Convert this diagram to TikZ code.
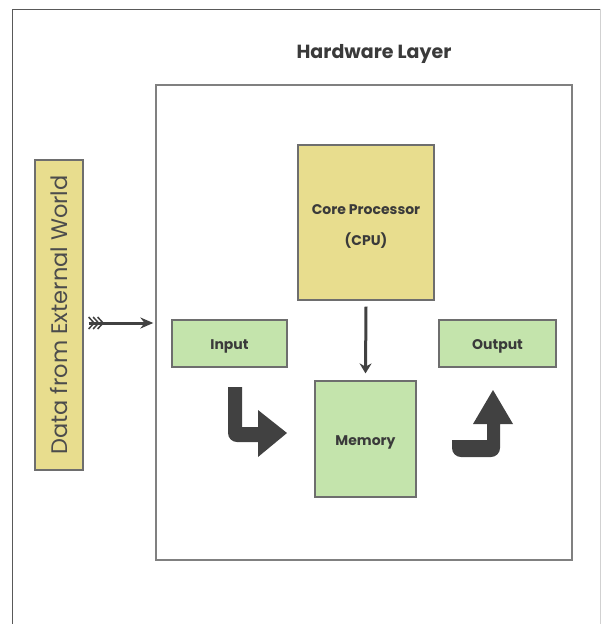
\documentclass[tikz,border=0pt]{standalone}
\usepackage{fontspec}
\setmainfont{Poppins}
\usetikzlibrary{arrows.meta}
\definecolor{boxyellow}{HTML}{E8DD8E}
\definecolor{boxgreen}{HTML}{C4E4AC}
\definecolor{edgegray}{HTML}{6E6E6E}
\definecolor{inkgray}{HTML}{3A3A3A}
\definecolor{arrowgray}{HTML}{414141}
\tikzset{
  unit/.style={draw=edgegray, line width=1.2pt, inner sep=0pt},
  yellowbox/.style={unit, fill=boxyellow},
  greenbox/.style={unit, fill=boxgreen},
  unitlabel/.style={text=inkgray, inner sep=0pt, align=center,
    font=\bfseries\fontsize{14}{31}\selectfont},
  bentarrow/.style={fill=arrowgray},
  flow/.style={draw=arrowgray, line width=3pt},
}
\begin{document}
\begin{tikzpicture}[x=1pt, y=-1pt]
\useasboundingbox (0,0) rectangle (602,624);
% page frame
\draw[draw=black!65, line width=1pt] (12,624) -- (12,9) -- (600,9);
\draw[draw=black!18, line width=1pt] (600,9) -- (600,624);

% title and hardware layer box
\node[text=inkgray, font=\bfseries\fontsize{19}{22}\selectfont] (title) at (374,54) {Hardware Layer};
\node[draw=black!50, line width=1.3pt, minimum width=416pt, minimum height=475pt, inner sep=0pt]
  (hw) at (364,322.5) {};

% external data source
\node[yellowbox, minimum width=310pt, minimum height=48pt, rotate=90, text=black!70,
      font=\fontsize{22.5}{26}\selectfont] (data) at (59,315) {Data from External World};

% units inside the hardware layer
\node[yellowbox, minimum width=136pt, minimum height=155pt] (cpu) at (366,222.5) {};
\node[greenbox, minimum width=115pt, minimum height=47pt] (input) at (229.5,343.5) {};
\node[greenbox, minimum width=117pt, minimum height=47pt] (output) at (497.5,343.5) {};
\node[greenbox, minimum width=101pt, minimum height=116pt] (mem) at (365.5,439) {};
\node[unitlabel] (cpu-text) at ([yshift=-4pt]cpu.center) {Core Processor\\(CPU)};
\node[unitlabel] (input-text) at ([yshift=-3pt]input.center) {Input};
\node[unitlabel] (output-text) at ([yshift=-3pt]output.center) {Output};
\node[unitlabel] (mem-text) at ([yshift=-3pt]mem.center) {Memory};

% data entering the hardware layer (fletched arrow)
\coordinate (feed) at ([xshift=5pt]data.south |- 0,323);
\draw[flow, -{Stealth[length=13pt, width=11pt]}] (feed) -- ([xshift=-2pt]hw.west |- feed);
\foreach \dx in {0,4.5,9}
  \draw[draw=arrowgray, line width=1.5pt] ([xshift=\dx pt, yshift=6pt]feed) -- ([xshift={\dx pt+5.5pt}]feed) -- ([xshift=\dx pt, yshift=-6pt]feed);

% processor writes to memory
\draw[flow, -{Stealth[length=10pt, width=12pt]}] ([yshift=-6pt]cpu.south) -- ([yshift=7pt]mem.north);

% input into memory
\fill[bentarrow] (228,387) -- (242,387) -- (242,427) -- (258,427) -- (258,410) -- (287,433)
  -- (258,457) -- (258,442) [rounded corners=9pt] -- (228,442) -- (228,400) [sharp corners] -- cycle;
% memory out to output
\fill[bentarrow] (452,440) -- (487,440) -- (487,424) -- (473,424) -- (493,390) -- (513,424)
  -- (500,424) [rounded corners=9pt] -- (500,457) -- (452,457) [sharp corners] -- cycle;
\end{tikzpicture}
\end{document}
